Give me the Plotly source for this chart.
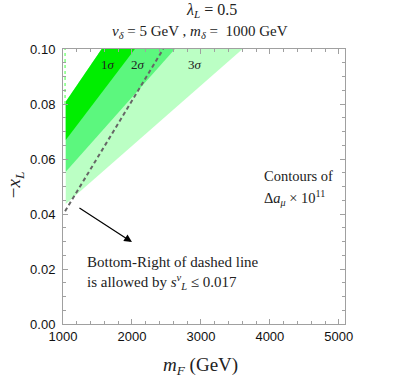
import plotly.graph_objects as go

# ---------------- data ----------------
mF_left = 1040                      # left edge of the allowed bands (GeV)
upper_left_y = 0.0808               # upper boundary of all bands at left edge
upper_top_x = 1561                  # upper boundary reaches -x_L = 0.10 here
band_names = ["3σ", "2σ", "1σ"]
band_lower_left_y = [0.0436, 0.0554, 0.0669]
band_lower_top_x = [3604, 2623, 2043]
band_colors = ["#bbffc4", "#5cf77e", "#00ee00"]
top_y = 0.10

dashed_x = [1030, 2454]
dashed_y = [0.041, 0.100]

edge_dot_x = [1030, 1030]
edge_dot_y = [0.080, 0.100]

sigma_label_x = [1652, 2087, 2913]
sigma_label_y = [0.0945, 0.0945, 0.0945]
sigma_labels = ["1<i>σ</i>", "2<i>σ</i>", "3<i>σ</i>"]

x_ticks = [1000, 2000, 3000, 4000, 5000]
y_ticks = [0.00, 0.02, 0.04, 0.06, 0.08, 0.10]
y_tick_text = ["0.00", "0.02", "0.04", "0.06", "0.08", "0.10"]

SERIF = "Liberation Serif, Times New Roman, serif"
SANS = "Liberation Sans, Arial, sans-serif"

fig = go.Figure()

for name, ly, tx, col in zip(band_names, band_lower_left_y, band_lower_top_x, band_colors):
    xs = [mF_left, upper_top_x, tx, mF_left, mF_left]
    ys = [upper_left_y, top_y, top_y, ly, upper_left_y]
    fig.add_trace(go.Scatter(x=xs, y=ys, fill="toself", fillcolor=col,
                             mode="lines", line=dict(width=0, color=col),
                             name=name, showlegend=False, hoverinfo="skip"))

fig.add_trace(go.Scatter(x=edge_dot_x, y=edge_dot_y, mode="lines",
                         line=dict(color="#80ff80", width=1.5, dash="dot"),
                         showlegend=False, hoverinfo="skip"))

fig.add_trace(go.Scatter(x=dashed_x, y=dashed_y, mode="lines",
                         line=dict(color="#666666", width=2, dash="4px,3px"),
                         showlegend=False, hoverinfo="skip"))

for lx, ly, lt in zip(sigma_label_x, sigma_label_y, sigma_labels):
    fig.add_annotation(x=lx, y=ly, text=lt, showarrow=False,
                       font=dict(family=SERIF, size=13, color="#222"))

# text annotations
fig.add_annotation(x=3890, y=0.0538, text="Contours of", showarrow=False,
                   xanchor="left", font=dict(family=SERIF, size=14.5, color="#222"))
fig.add_annotation(x=3890, y=0.0458, text="Δ<i>a</i><sub><i>μ</i></sub> × 10<sup>11</sup>",
                   showarrow=False, xanchor="left",
                   font=dict(family=SERIF, size=14.5, color="#222"))
fig.add_annotation(x=1320, y=0.0225, text="Bottom-Right of dashed line", showarrow=False,
                   xanchor="left", font=dict(family=SERIF, size=15, color="#222"))
fig.add_annotation(x=1320, y=0.0153,
                   text="is allowed by <i>s</i><sup><i>ν</i></sup><sub><i>L</i></sub> ≤ 0.017",
                   showarrow=False, xanchor="left",
                   font=dict(family=SERIF, size=15, color="#222"))
fig.add_annotation(x=2000, y=0.0298, ax=1217, ay=0.0425, axref="x", ayref="y",
                   text="", showarrow=True, arrowhead=2, arrowsize=1.3,
                   arrowwidth=1.2, arrowcolor="#000")

# titles
fig.add_annotation(xref="paper", yref="paper", x=0.525, y=1.14,
                   xanchor="center", yanchor="middle",
                   text="<i>λ</i><sub><i>L</i></sub> = 0.5", showarrow=False,
                   font=dict(family=SERIF, size=16, color="#222"))
fig.add_annotation(xref="paper", yref="paper", x=0.486, y=1.06,
                   xanchor="center", yanchor="middle",
                   text="<i>v</i><sub><i>δ</i></sub> = 5 GeV , <i>m</i><sub><i>δ</i></sub> =  1000 GeV",
                   showarrow=False, font=dict(family=SERIF, size=15, color="#222"))
fig.add_annotation(xref="paper", yref="paper", x=0.486, y=-0.153,
                   xanchor="center", yanchor="middle",
                   text="<i>m</i><sub><i>F</i></sub> (GeV)", showarrow=False,
                   font=dict(family=SERIF, size=19, color="#222"))
fig.add_annotation(xref="paper", yref="paper", x=-0.17, y=0.505,
                   xanchor="center", yanchor="middle",
                   text="−<i>x</i><sub><i>L</i></sub>", showarrow=False, textangle=-90,
                   font=dict(family=SERIF, size=19, color="#222"))

axis_common = dict(showgrid=False, zeroline=False, showline=True, linecolor="#a0a0a0",
                   linewidth=1, mirror="ticks", ticks="inside", ticklen=5,
                   tickcolor="#a0a0a0", tickwidth=1,
                   tickfont=dict(family=SANS, size=13, color="#111"))

fig.update_xaxes(range=[1000, 5090], tickvals=x_ticks,
                 minor=dict(dtick=200, tick0=1000, ticks="inside", ticklen=3,
                            tickcolor="#a0a0a0"),
                 **axis_common)
fig.update_yaxes(range=[0, 0.1], tickvals=y_ticks, ticktext=y_tick_text,
                 ticklabelstandoff=4,
                 minor=dict(dtick=0.005, tick0=0, ticks="inside", ticklen=3,
                            tickcolor="#a0a0a0"),
                 **axis_common)

fig.update_layout(width=399, height=382, margin=dict(l=63, r=54, t=49, b=58),
                  plot_bgcolor="white", paper_bgcolor="white", showlegend=False)

fig.write_html("out.html", config={"displayModeBar": False},
               post_script="document.body.style.margin='0';document.body.style.padding='0';")
